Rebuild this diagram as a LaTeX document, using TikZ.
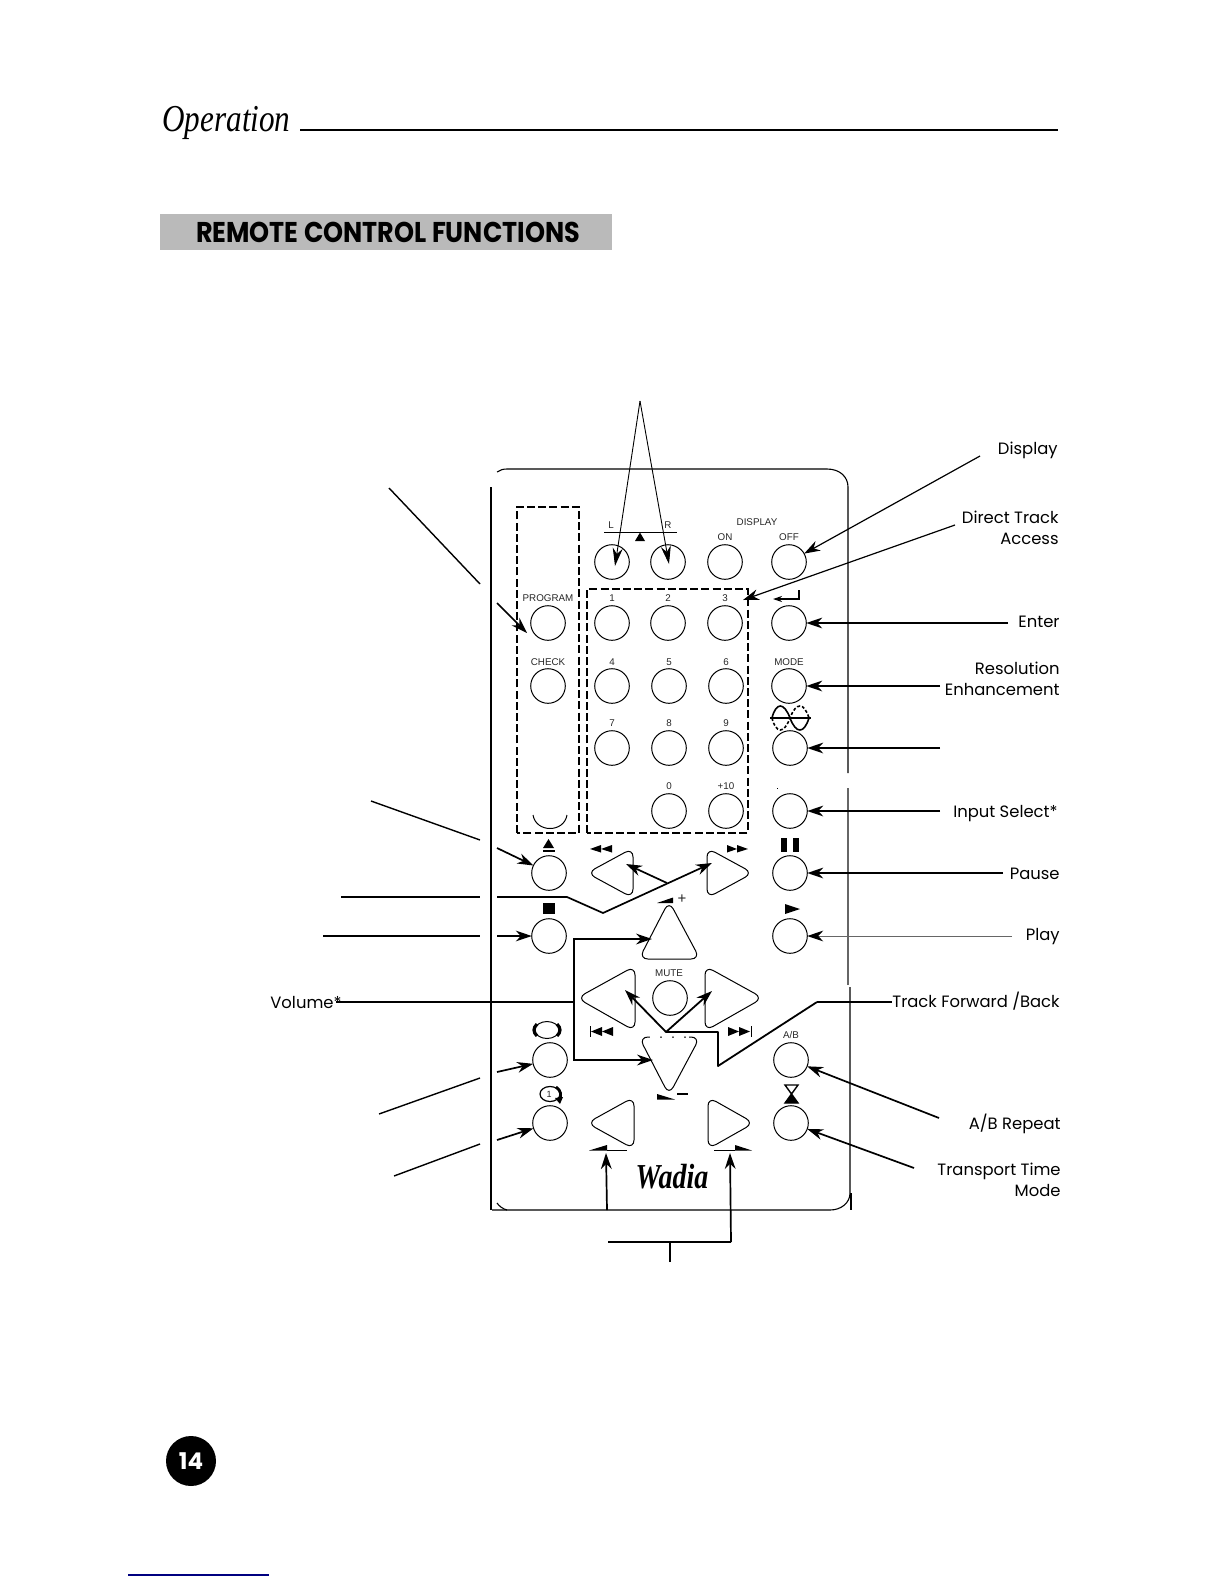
\documentclass[tikz,border=0pt]{standalone}
\usepackage{fontspec}
\setmainfont{Poppins}
\setsansfont{Liberation Sans}
\newfontfamily\opfont{Liberation Serif}
\usepackage{tikz}
\usetikzlibrary{arrows.meta}
\begin{document}
\begin{tikzpicture}[x=0.5pt,y=-0.5pt,line cap=butt,
  btn/.style={draw,circle,minimum size=17.3pt,inner sep=0pt,outer sep=0pt,line width=0.5pt},
  tri/.style={draw,rounded corners=4.5pt,line width=0.5pt},
  shell/.style={line width=0.55pt},
  box/.style={line width=0.85pt,dash pattern=on 4pt off 1.6pt},
  tag/.style={font=\sffamily\fontsize{4.9}{5}\selectfont,inner sep=0pt,text=black!85},
  lbl/.style={font=\fontsize{8.2}{10.5}\selectfont,inner sep=0pt,anchor=east,align=right},
  lead/.style={line width=0.7pt},
  flow/.style={-{Stealth[length=8pt,width=5.4pt]},line width=0.85pt},
  thinflow/.style={-{Stealth[length=9pt,width=5pt]},line width=0.45pt},
  ico/.style={fill=black,draw=none}]
 \useasboundingbox (0,0) rectangle (1224,1584);
 % page head
 \node[font=\opfont\itshape\fontsize{19}{21}\selectfont,inner sep=0pt,anchor=base west] (title) at (162,132) {\scalebox{0.82}[1]{Operation}};
 \draw[line width=1pt] (300,130) -- (1058,130);
 \node[fill=black!27,minimum width=226pt,minimum height=18pt,inner sep=0pt,anchor=north west] (banner) at (160,214) {};
 \node[font=\bfseries\fontsize{13}{13}\selectfont,inner sep=0pt] (head) at (388,232) {\scalebox{0.98}[1.1]{REMOTE CONTROL FUNCTIONS}};
 % remote body
 \draw[shell] (497,472) .. controls (500,470) and (503,469) .. (507,469) -- (827,469) .. controls (840,469) and (848,477) .. (848,487) -- (848,773);
 \draw[shell] (491,487) -- (491,1210);
 \draw[shell,black!60] (848,788) -- (848,985);
 \draw[shell] (850,987) -- (850,1193) .. controls (850,1203) and (841,1210) .. (830,1210) -- (492,1210);
 \draw[shell] (497,1203) .. controls (499,1206) and (503,1209) .. (507,1210);
 \draw[shell] (851,1193) -- (851,1210);
 \draw[box] (517,833) -- (517,507) -- (579,507) -- (579,833) -- cycle;
 \draw[box] (587,833) -- (587,589) -- (748,589) -- (748,833) -- cycle;
 % upper buttons
 \node[btn] (left) at (612,562) {};
 \node[btn] (right) at (668,562) {};
 \node[btn] (on) at (725,562) {};
 \node[btn] (off) at (789,562) {};
 \node[btn] (prog) at (548,623) {};
 \node[btn] (k1) at (612,623) {};
 \node[btn] (k2) at (668,623) {};
 \node[btn] (k3) at (725,623) {};
 \node[btn] (enter) at (789,623) {};
 \node[btn] (check) at (548,686) {};
 \node[btn] (k4) at (612,686) {};
 \node[btn] (k5) at (669,686) {};
 \node[btn] (k6) at (726,686) {};
 \node[btn] (mode) at (789,686) {};
 \node[btn] (k7) at (612,748) {};
 \node[btn] (k8) at (669,748) {};
 \node[btn] (k9) at (726,748) {};
 \node[btn] (wave) at (790,748) {};
 \node[btn] (k0) at (669,811) {};
 \node[btn] (k10) at (726,811) {};
 \node[btn] (input) at (790,811) {};
 % lower buttons
 \node[btn] (eject) at (549,873) {};
 \node[btn] (pause) at (790,873) {};
 \node[btn] (stop) at (549,936) {};
 \node[btn] (play) at (790,936) {};
 \node[btn] (mute) at (670,998) {};
 \node[btn] (phones) at (550,1060) {};
 \node[btn] (ab) at (791,1060) {};
 \node[btn] (repeat) at (550,1123) {};
 \node[btn] (ttime) at (791,1123) {};
 % triangle keys
 \draw[tri] (587,873) -- (633,848) -- (633,898) -- cycle;
 \draw[tri] (707,848) -- (753,873) -- (707,898) -- cycle;
 \draw[tri] (669,901) -- (639,959) -- (700,959) -- cycle;
 \draw[tri] (577,998) -- (635,966) -- (635,1031) -- cycle;
 \draw[tri] (705,966) -- (763,998) -- (705,1031) -- cycle;
 \draw[tri] (639,1037) -- (700,1037) -- (669,1095) -- cycle;
 \draw[white,line width=1pt,dash pattern=on 5pt off 1pt] (650,1037) -- (689,1037);
 \draw[tri] (587,1123) -- (634,1097) -- (634,1149) -- cycle;
 \draw[tri] (708,1097) -- (754,1123) -- (708,1149) -- cycle;
 % key captions
 \node[tag] (tl) at (611,525) {L};
 \node[tag] (tr) at (668,525) {R};
 \node[tag] (tdisp) at (757,522) {DISPLAY};
 \node[tag] (ton) at (725,537) {ON};
 \node[tag] (toff) at (789,537) {OFF};
 \node[tag] (tprog) at (548,598.5) {PROGRAM};
 \node[tag] (t1) at (612,598) {1};
 \node[tag] (t2) at (668,598) {2};
 \node[tag] (t3) at (725,598) {3};
 \node[tag] (tcheck) at (548,662) {CHECK};
 \node[tag] (t4) at (612,662) {4};
 \node[tag] (t5) at (669,662) {5};
 \node[tag] (t6) at (726,662) {6};
 \node[tag] (tmode) at (789,662) {MODE};
 \node[tag] (t7) at (612,723) {7};
 \node[tag] (t8) at (669,723) {8};
 \node[tag] (t9) at (726,723) {9};
 \node[tag] (t0) at (669,786) {0};
 \node[tag] (t10) at (726,786) {+10};
 \node[tag] (tmute) at (669,973) {MUTE};
 \node[tag] (tab) at (791,1035) {A/B};
 \node[tag,font=\sffamily\fontsize{7.5}{8}\selectfont] (tplus) at (682,899) {+};
 % key symbols
 \draw[line width=0.5pt] (604,532) -- (677,532);
 \fill[ico] (640,532.5) -- (635,541) -- (645,541) -- cycle;
 \draw[line width=0.6pt,-{Stealth[length=4.5pt,width=3pt]}] (799,590) -- (799,599) -- (773,599);
 \draw[line width=0.8pt] (770,718) -- (811,718);
 \draw[line width=0.8pt] (772,718) .. controls (776,702) and (784,702) .. (790,718) .. controls (796,734) and (804,734) .. (809,718);
 \draw[line width=0.8pt,dash pattern=on 1.5pt off 1pt] (772,718) .. controls (776,734) and (784,734) .. (790,718) .. controls (796,702) and (804,702) .. (809,718);
 \draw[line width=0.5pt] (533,815) .. controls (536,833) and (564,833) .. (567,815);
 \fill[ico] (776.5,787.5) rectangle (778,789);
 \fill[ico] (548.5,839) -- (543,848) -- (554,848) -- cycle;
 \fill[ico] (543,850) rectangle (555,852);
 \fill[ico] (781,838) rectangle (787,852);
 \fill[ico] (793,838) rectangle (799,852);
 \fill[ico] (590,849) -- (601,845) -- (601,852.5) -- cycle;
 \fill[ico] (601,849) -- (612,845) -- (612,852.5) -- cycle;
 \fill[ico] (748,849) -- (737,845) -- (737,852.5) -- cycle;
 \fill[ico] (737,849) -- (727,845) -- (727,852.5) -- cycle;
 \fill[ico] (543,903) rectangle (555,914);
 \fill[ico] (785,904) -- (800,909) -- (785,914) -- cycle;
 \fill[ico] (657,903) -- (673,897.5) -- (673,903) -- cycle;
 \draw[line width=0.5pt] (590,1026) -- (590,1037);
 \fill[ico] (591,1031.5) -- (602,1027) -- (602,1036) -- cycle;
 \fill[ico] (602,1031.5) -- (613,1027) -- (613,1036) -- cycle;
 \draw[line width=0.5pt] (751,1026) -- (751,1037);
 \fill[ico] (750,1031.5) -- (739,1027) -- (739,1036) -- cycle;
 \fill[ico] (739,1031.5) -- (728,1027) -- (728,1036) -- cycle;
 \draw[line width=0.5pt] (547,1030) circle[x radius=12,y radius=8.5];
 \draw[line width=1.6pt] (537,1024) .. controls (533,1028) and (533,1032) .. (537,1036);
 \draw[line width=1.6pt] (557,1024) .. controls (561,1028) and (561,1032) .. (557,1036);
 \draw[line width=0.6pt] (550,1094) circle[x radius=10,y radius=7.5];
 \draw[line width=1.4pt] (556,1087) .. controls (561,1090) and (562,1096) .. (559,1100);
 \fill[ico] (555,1098) -- (563,1097) -- (560,1104) -- cycle;
 \node[tag,font=\sffamily\fontsize{4.5}{5}\selectfont] (tone) at (549,1094) {1};
 \fill[ico] (657,1094) -- (675,1099.5) -- (657,1099.5) -- cycle;
 \draw[line width=0.6pt] (677,1094) -- (688,1094);
 \draw[line width=0.7pt] (785,1085) -- (798,1085) -- (785,1103) -- (798,1103) -- cycle;
 \fill[ico] (791.5,1094) -- (785,1103) -- (798,1103) -- cycle;
 \draw[line width=0.5pt] (607,1150) -- (627,1150);
 \fill[ico] (589,1150.5) -- (607,1145) -- (607,1150.5) -- cycle;
 \draw[line width=0.5pt] (714,1150) -- (735,1150);
 \fill[ico] (752,1150.5) -- (735,1145) -- (735,1150.5) -- cycle;
 \node[font=\opfont\bfseries\itshape\fontsize{17.5}{19}\selectfont,inner sep=0pt] (wadia) at (672,1177) {\scalebox{0.8}[1]{Wadia}};
 % right labels
 \node[lbl] (ldisp) at (1058,450) {Display};
 \node[lbl] (ldirect) at (1059,528) {Direct Track\\Access};
 \node[lbl] (lenter) at (1060,622) {Enter};
 \node[lbl] (lres) at (1060,679) {Resolution\\Enhancement};
 \node[lbl] (linput) at (1058,814) {Input Select*};
 \node[lbl] (lpause) at (1060,873.5) {Pause};
 \node[lbl] (lplay) at (1060,937) {Play};
 \node[lbl] (ltrack) at (1060,1001.5) {Track Forward /Back};
 \node[lbl] (lab) at (1061,1123.5) {A/B Repeat};
 \node[lbl] (ltime) at (1061,1180) {Transport Time\\Mode};
 \node[lbl,anchor=west] (lvol) at (270,1002.5) {Volume*};
 % free ends
 \coordinate (apex) at (640,401);
 \coordinate (ltip) at (615,566);
 \coordinate (rtip) at (669,564);
 \coordinate (dispend) at (980,456);
 \coordinate (dirend) at (955,525);
 \coordinate (dirtip) at (743,600);
 \coordinate (enterend) at (1008,623);
 \coordinate (resend) at (940,686);
 \coordinate (waveend) at (940,748);
 \coordinate (inputend) at (940,811);
 \coordinate (pauseend) at (1003,873);
 \coordinate (playend) at (1012,936);
 \coordinate (abend) at (939,1118);
 \coordinate (timeend) at (914,1168);
 \coordinate (trackend) at (817,1002);
 \coordinate (trackfork) at (666,1032);
 \coordinate (trackback) at (625,990);
 \coordinate (trackfwd) at (712,991);
 % right connectors
 \draw[thinflow] (apex) -- (ltip);
 \draw[thinflow] (apex) -- (rtip);
 \draw[flow,line width=0.6pt] (dispend) -- (off);
 \draw[flow,line width=0.6pt] (dirend) -- (dirtip);
 \draw[flow] (enterend) -- (enter);
 \draw[flow] (resend) -- (mode);
 \draw[flow] (waveend) -- (wave);
 \draw[flow] (inputend) -- (input);
 \draw[flow] (pauseend) -- (pause);
 \draw[flow,black!60,line width=0.5pt,{-{Stealth[length=8pt,width=5.4pt,black]}}] (playend) -- (play);
 \draw[flow] (abend) -- (ab);
 \draw[flow] (timeend) -- (ttime);
 \draw[line width=0.9pt] (trackend) -- (ltrack.west |- trackend);
 \draw[flow,line width=0.9pt,line join=round] (trackend) -- (718,1066) -- (718,1032) -- (trackfork) -- (trackback);
 \draw[flow,line width=0.9pt] (trackfork) -- (trackfwd);
 % left connectors
 \coordinate (progend) at (389,488);
 \coordinate (proggap) at (480,584);
 \coordinate (proghead) at (497,603);
 \coordinate (progtip) at (527,633);
 \draw[lead] (progend) -- (proggap);
 \draw[flow] (proghead) -- (progtip);
 \coordinate (ejectend) at (371,801);
 \coordinate (ejectgap) at (480,840);
 \coordinate (ejecthead) at (497,848);
 \draw[lead] (ejectend) -- (ejectgap);
 \draw[flow] (ejecthead) -- (eject);
 \coordinate (seekend) at (341,897);
 \coordinate (seekgap) at (480,897);
 \coordinate (seekhead) at (497,897);
 \coordinate (seekfork) at (667,883);
 \coordinate (seekback) at (626,864);
 \coordinate (seekfwd) at (712,863);
 \draw[lead] (seekend) -- (seekgap);
 \draw[flow,line join=round] (seekhead) -- (567,897) -- (603,913) -- (seekfwd);
 \draw[flow] (seekfork) -- (seekback);
 \coordinate (stopend) at (323,936);
 \coordinate (stopgap) at (480,936);
 \coordinate (stophead) at (497,936);
 \draw[lead] (stopend) -- (stopgap);
 \draw[flow,line width=0.6pt] (stophead) -- (stop);
 \coordinate (volfork) at (574,1002);
 \coordinate (volup) at (652,939);
 \coordinate (voldown) at (653,1060);
 \draw[line width=0.9pt] (lvol.east |- volfork) ++(-6,0) -- (volfork);
 \draw[flow,line width=1pt] (volfork) -- (574,939) -- (volup);
 \draw[flow,line width=1pt] (volfork) -- (574,1060) -- (voldown);
 \coordinate (phonesend) at (379,1114);
 \coordinate (phonesgap) at (480,1078);
 \coordinate (phoneshead) at (497,1072);
 \draw[lead] (phonesend) -- (phonesgap);
 \draw[flow] (phoneshead) -- (phones);
 \coordinate (repend) at (394,1176);
 \coordinate (repgap) at (480,1144);
 \coordinate (rephead) at (497,1140);
 \draw[lead] (repend) -- (repgap);
 \draw[flow] (rephead) -- (repeat);
 % bottom connectors
 \coordinate (stem) at (670,1262);
 \coordinate (stemtop) at (670,1242);
 \coordinate (barleft) at (608,1242);
 \coordinate (barright) at (731,1242);
 \coordinate (prevbase) at (607,1210);
 \coordinate (prevtip) at (606,1153);
 \coordinate (nexttip) at (730,1153);
 \draw[line width=1.2pt] (stem) -- (stemtop);
 \draw[line width=1pt] (barleft) -- (barright);
 \draw[flow] (barright) -- (nexttip);
 \draw[flow] (prevbase) -- (prevtip);
 % page foot
 \node[circle,fill=black,text=white,minimum size=25pt,inner sep=0pt,font=\bfseries\fontsize{11.5}{12}\selectfont] (page) at (191,1461) {14};
 \draw[blue!50!black,line width=0.6pt] (128,1575) -- (269,1575);
\end{tikzpicture}
\end{document}
